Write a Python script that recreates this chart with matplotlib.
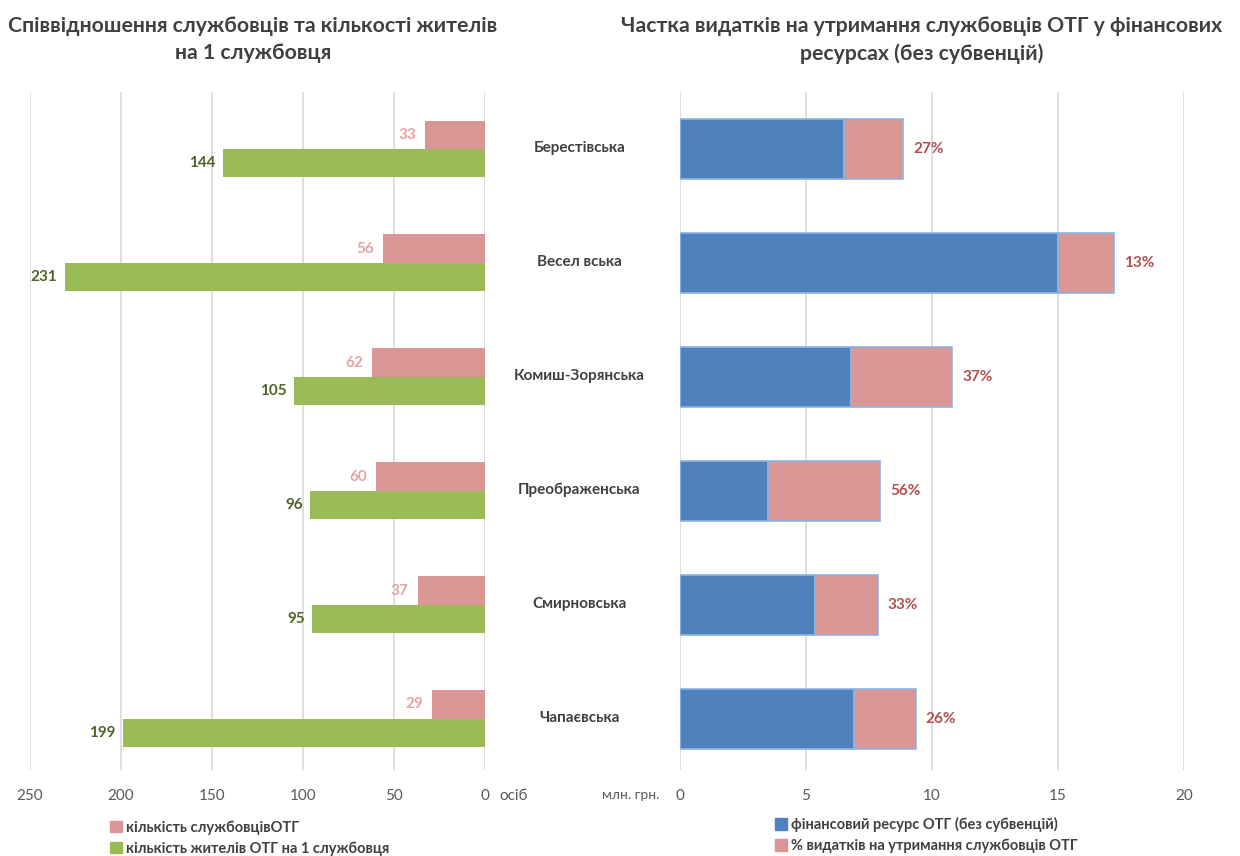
import matplotlib
matplotlib.use('Agg')
import matplotlib.pyplot as plt
from matplotlib.patches import Patch

plt.rcParams['font.family'] = ['Lato', 'Open Sans', 'DejaVu Sans']

communities = ['Берестівська', 'Весел вська', 'Комиш-Зорянська', 'Преображенська', 'Смирновська', 'Чапаєвська']
officials = [33, 56, 62, 60, 37, 29]
residents_per_official = [144, 231, 105, 96, 95, 199]
fin_resource = [6.5, 15.0, 6.8, 3.5, 5.35, 6.9]
staff_costs = [2.35, 2.2, 4.0, 4.45, 2.5, 2.45]
cost_share = ['27%', '13%', '37%', '56%', '33%', '26%']

pink = '#d99694'
green = '#9bbb59'
blue = '#4f81bd'
grid_c = '#d9d9d9'
text_c = '#404040'
tick_c = '#595959'

fig = plt.figure(figsize=(12.4, 8.56), dpi=100)
axl = fig.add_axes([0.0242, 0.1005, 0.3669, 0.792])
axr = fig.add_axes([0.5484, 0.1005, 0.4065, 0.792])

y = list(range(len(communities)))
h = 0.25

# left chart
axl.barh([i - h / 2 for i in y], officials, height=h, color=pink, zorder=2)
axl.barh([i + h / 2 for i in y], residents_per_official, height=h, color=green, zorder=2)
for i in y:
    axl.text(officials[i] + 5, i - h / 2, str(officials[i]), ha='right', va='center',
             color='#e6a3a3', fontsize=11, fontweight='bold', zorder=3)
    axl.text(residents_per_official[i] + 4, i + h / 2, str(residents_per_official[i]), ha='right',
             va='center', color='#4f6228', fontsize=11, fontweight='bold', zorder=3)
axl.set_xlim(250, 0)
axl.set_ylim(5.45, -0.5)
axl.set_xticks([250, 200, 150, 100, 50, 0])
axl.set_yticks([])
axl.grid(axis='x', color=grid_c, linewidth=1.2, zorder=0)
axl.tick_params(axis='x', length=0, colors=tick_c, labelsize=11, pad=14)
for s in axl.spines.values():
    s.set_visible(False)
axl.text(-8, 5.62, 'осіб', ha='left', va='top', color=tick_c, fontsize=11)

# right chart
axr.barh(y, fin_resource, height=0.53, color=blue, edgecolor='#8db3e2', linewidth=1.2, zorder=2)
axr.barh(y, staff_costs, left=fin_resource, height=0.53, color=pink, edgecolor='#8db3e2',
         linewidth=1.2, zorder=2)
for i in y:
    axr.text(fin_resource[i] + staff_costs[i] + 0.4, i, cost_share[i], ha='left', va='center',
             color='#b0504d', fontsize=11, fontweight='bold', zorder=3)
axr.set_xlim(0, 20)
axr.set_ylim(5.45, -0.5)
axr.set_xticks([0, 5, 10, 15, 20])
axr.set_yticks([])
axr.grid(axis='x', color=grid_c, linewidth=1.2, zorder=0)
axr.tick_params(axis='x', length=0, colors=tick_c, labelsize=11, pad=14)
for s in axr.spines.values():
    s.set_visible(False)
axr.text(-0.8, 5.62, 'млн. грн.', ha='right', va='top', color=tick_c, fontsize=10)

# community names in the middle
for i in y:
    axr.text(-4, i - 0.01, communities[i], ha='center', va='center', color=text_c,
             fontsize=11, fontweight='bold', clip_on=False)

# titles
fig.text(0.204, 0.981, 'Співвідношення службовців та кількості жителів\nна 1 службовця',
         ha='center', va='top', color=text_c, fontsize=15.3, fontweight='bold', linespacing=1.45)
fig.text(0.743, 0.981, 'Частка видатків на утримання службовців ОТГ у фінансових\nресурсах (без субвенцій)',
         ha='center', va='top', color=text_c, fontsize=15.3, fontweight='bold', linespacing=1.45)

# legends
leg_kw = dict(loc='upper left', frameon=False, handlelength=0.8, handleheight=0.8,
              handletextpad=0.3, labelspacing=0.45, borderpad=0, labelcolor=text_c,
              prop={'size': 10.5, 'weight': 'bold'})
fig.legend(handles=[Patch(color=pink, label='кількість службовцівОТГ'),
                    Patch(color=green, label='кількість жителів ОТГ на 1 службовця')],
           bbox_to_anchor=(0.083, 0.05), **leg_kw)
fig.legend(handles=[Patch(color=blue, label='фінансовий ресурс ОТГ (без субвенцій)'),
                    Patch(color=pink, label='% видатків на утримання службовців ОТГ')],
           bbox_to_anchor=(0.619, 0.054), **leg_kw)

fig.savefig('out.png', dpi=100)
